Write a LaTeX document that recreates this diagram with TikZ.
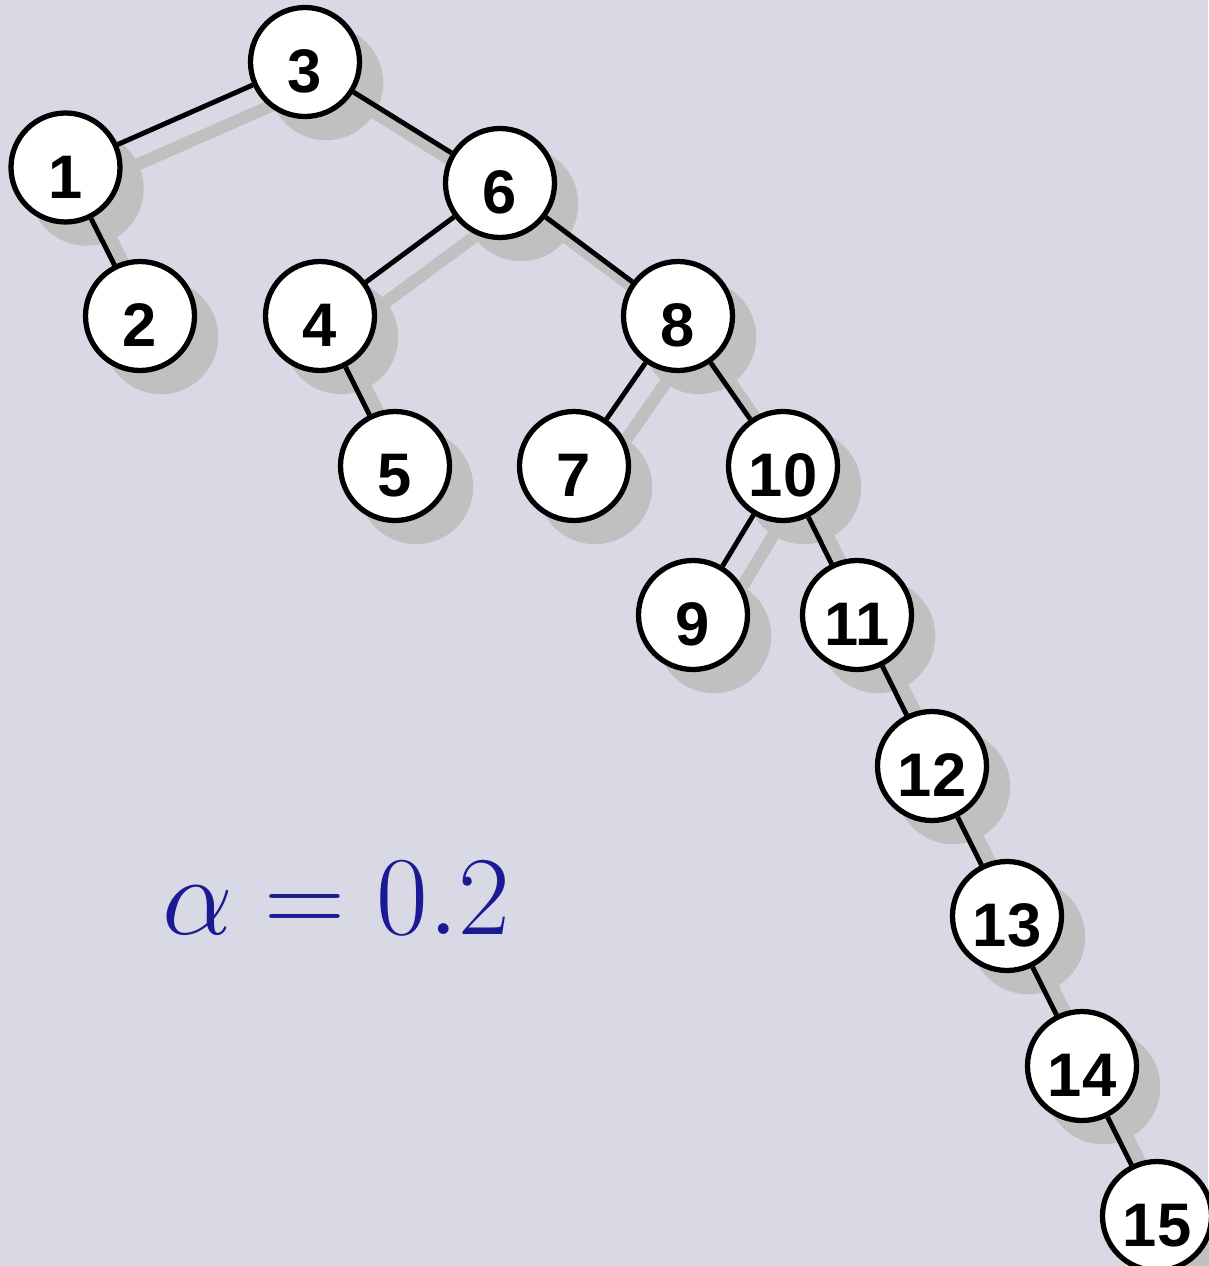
\documentclass[tikz,border=0pt]{standalone}
\usepackage{fontspec}
\usepackage{xcolor}
\usepackage{tikz}
\usetikzlibrary{shadows, backgrounds}
\newfontfamily\treefont{Liberation Sans}
\definecolor{panelbg}{RGB}{217,217,230}
\definecolor{shadegray}{RGB}{192,192,192}
\definecolor{alphablue}{RGB}{26,26,148}

\begin{document}
\begin{tikzpicture}[
    keynode/.style={circle, draw=black, line width=3pt, fill=white, minimum size=2.18cm, inner sep=0pt,
        text height=35pt, text depth=0pt,
        font=\treefont\bfseries\fontsize{35}{40}\selectfont,
        drop shadow={shadow xshift=0.4cm, shadow yshift=-0.4cm, shadow scale=1.05, fill=shadegray, opacity=1}},
    link/.style={line width=2.8pt, black},
    linkshade/.style={line width=7pt, shadegray, transform canvas={shift={(0.4,-0.4)}}}
]
\useasboundingbox (0,0) rectangle (24.16,-25.32);

\node[keynode] (n3) at (6.10,-1.24) {3};
\node[keynode] (n1) at (1.31,-3.35) {1};
\node[keynode] (n6) at (10.00,-3.66) {6};
\node[keynode] (n2) at (2.80,-6.32) {2};
\node[keynode] (n4) at (6.40,-6.32) {4};
\node[keynode] (n8) at (13.56,-6.32) {8};
\node[keynode] (n5) at (7.90,-9.32) {5};
\node[keynode] (n7) at (11.48,-9.32) {7};
\node[keynode] (n10) at (15.66,-9.32) {10};
\node[keynode] (n9) at (13.86,-12.30) {9};
\node[keynode] (n11) at (17.14,-12.30) {11};
\node[keynode] (n12) at (18.64,-15.32) {12};
\node[keynode] (n13) at (20.14,-18.32) {13};
\node[keynode] (n14) at (21.64,-21.32) {14};
\node[keynode] (n15) at (23.14,-24.32) {15};

\node[text=alphablue, font=\Huge, scale=2.57, transform shape] (alpha) at (6.73,-17.96) {$\alpha = 0.2$};

\draw[link] (n3) -- (n1);
\draw[link] (n1) -- (n2);
\draw[link] (n3) -- (n6);
\draw[link] (n6) -- (n4);
\draw[link] (n4) -- (n5);
\draw[link] (n6) -- (n8);
\draw[link] (n8) -- (n7);
\draw[link] (n8) -- (n10);
\draw[link] (n10) -- (n9);
\draw[link] (n10) -- (n11);
\draw[link] (n11) -- (n12);
\draw[link] (n12) -- (n13);
\draw[link] (n13) -- (n14);
\draw[link] (n14) -- (n15);

% panel and link shadows behind everything
\begin{scope}[on background layer]
\fill[panelbg] (0,0) rectangle (24.16,-25.32);
\foreach \a/\b in {n3/n1, n1/n2, n3/n6, n6/n4, n4/n5, n6/n8, n8/n7, n8/n10,
                   n10/n9, n10/n11, n11/n12, n12/n13, n13/n14, n14/n15}
    \draw[linkshade] (\a) -- (\b);
\end{scope}
\end{tikzpicture}
\end{document}
